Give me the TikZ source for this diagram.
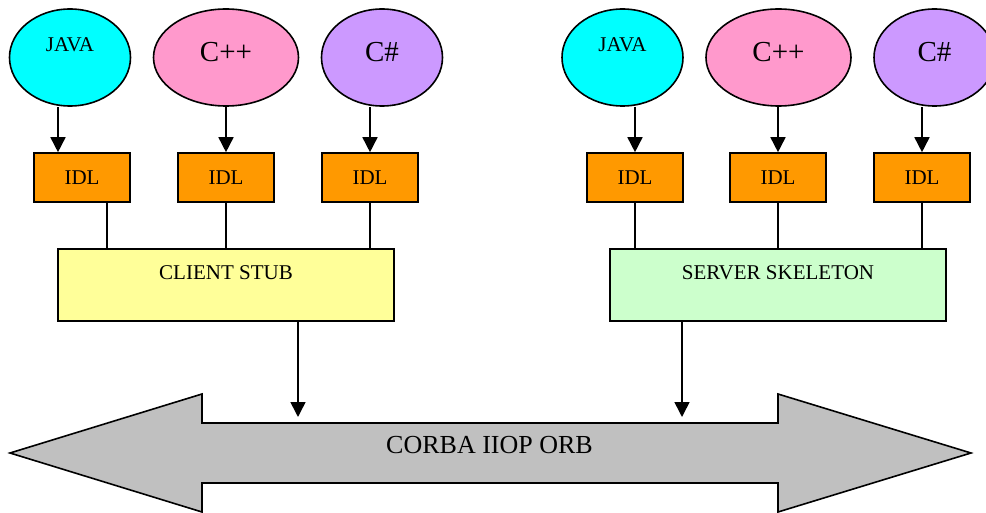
\documentclass[tikz,border=0pt]{standalone}
\usepackage{fontspec}
\setmainfont{Liberation Serif}
\usetikzlibrary{shapes.geometric,arrows.meta,calc}
\definecolor{javacyan}{HTML}{00FFFF}
\definecolor{cpppink}{HTML}{FF99CC}
\definecolor{cslilac}{HTML}{CC99FF}
\definecolor{idlorange}{HTML}{FF9900}
\definecolor{stubyellow}{HTML}{FFFF99}
\definecolor{skelgreen}{HTML}{CCFFCC}
\definecolor{orbgray}{HTML}{C0C0C0}
\begin{document}
\begin{tikzpicture}[x=1pt,y=-1pt,
  outline/.style={draw=black,line width=1.6pt},
  small/.style={font=\fontsize{21}{24}\selectfont},
  big/.style={font=\fontsize{29}{32}\selectfont},
  lang/.style={outline,ellipse,inner sep=0pt,minimum height=97pt},
  javanode/.style={lang,fill=javacyan,minimum width=121pt,
    label={[small,yshift=12.8pt]center:JAVA}},
  cppnode/.style={lang,fill=cpppink,minimum width=145pt,
    label={[big,yshift=5pt]center:C++}},
  csnode/.style={lang,fill=cslilac,minimum width=121pt,
    label={[big,yshift=5pt]center:C\#}},
  idlbox/.style={outline,rectangle,fill=idlorange,minimum width=96pt,
    minimum height=49pt,inner sep=0pt,small},
  layer/.style={outline,rectangle,minimum width=336pt,minimum height=72pt,
    inner sep=0pt},
  feed/.style={line width=1.6pt,-{Triangle[length=15pt,width=15pt]}},
  tie/.style={line width=1.6pt},
]
\clip (0,0) rectangle (986,513);

% client side languages
\node[javanode] (j1) at (70,57.5) {};
\node[cppnode]  (p1) at (226,57.5) {};
\node[csnode]   (s1) at (382,57.5) {};
% server side languages
\node[javanode] (j2) at (622.5,57.5) {};
\node[cppnode]  (p2) at (778.5,57.5) {};
\node[csnode]   (s2) at (934.5,57.5) {};

% IDL boxes
\node[idlbox] (i1) at (82,177.5) {IDL};
\node[idlbox] (i2) at (226,177.5) {IDL};
\node[idlbox] (i3) at (370,177.5) {IDL};
\node[idlbox] (i4) at (635,177.5) {IDL};
\node[idlbox] (i5) at (778,177.5) {IDL};
\node[idlbox] (i6) at (922,177.5) {IDL};

% stub and skeleton
\node[layer,fill=stubyellow,
  label={[small,yshift=12pt]center:CLIENT STUB}] (stub) at (226,285) {};
\node[layer,fill=skelgreen,
  label={[small,yshift=12pt]center:SERVER SKELETON}] (skel) at (778,285) {};

% the ORB as a double arrow
\draw[outline,fill=orbgray] (10,453) -- (202,394) -- (202,423) -- (778,423)
  -- (778,394) -- (971,453) -- (778,512) -- (778,483) -- (202,483)
  -- (202,512) -- cycle;
\node[font=\fontsize{26}{29}\selectfont] (orb) at (489.5,445) {CORBA IIOP ORB};

% column positions of the off-centre connectors
\coordinate (colA) at (58,0);
\coordinate (colB) at (107,0);
\coordinate (stubdrop) at (298,417);
\coordinate (skeldrop) at (682,417);

% language -> IDL
\draw[feed] (j1.south -| colA) -- (i1.north -| colA);
\draw[feed] (p1.south -| i2.north) -- (i2.north);
\draw[feed] (s1.south -| i3.north) -- (i3.north);
\draw[feed] (j2.south -| i4.north) -- (i4.north);
\draw[feed] (p2.south -| i5.north) -- (i5.north);
\draw[feed] (s2.south -| i6.north) -- (i6.north);

% IDL -- stub / skeleton
\draw[tie] (i1.south -| colB) -- (stub.north -| colB);
\draw[tie] (i2.south) -- (i2.south |- stub.north);
\draw[tie] (i3.south) -- (i3.south |- stub.north);
\draw[tie] (i4.south) -- (i4.south |- skel.north);
\draw[tie] (i5.south) -- (i5.south |- skel.north);
\draw[tie] (i6.south) -- (i6.south |- skel.north);

% stub / skeleton -> ORB
\draw[feed] (stub.south -| stubdrop) -- (stubdrop);
\draw[feed] (skel.south -| skeldrop) -- (skeldrop);
\end{tikzpicture}
\end{document}
